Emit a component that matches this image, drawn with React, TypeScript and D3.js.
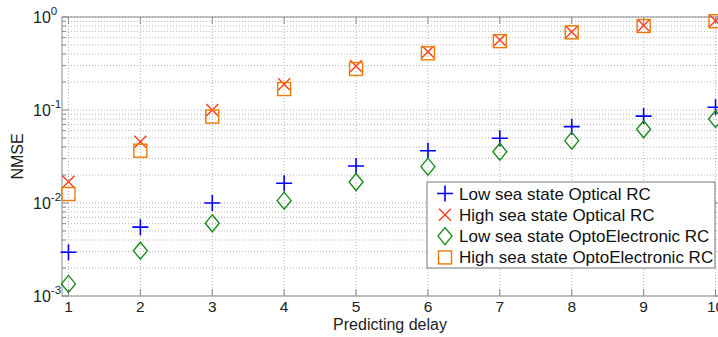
import * as d3 from 'd3';

const delays = [1, 2, 3, 4, 5, 6, 7, 8, 9, 10];
const lowOptical = [0.00295, 0.0055, 0.01, 0.0163, 0.025, 0.0365, 0.0496, 0.0662, 0.086, 0.107];
const highOptical = [0.0169, 0.0456, 0.1, 0.189, 0.297, 0.424, 0.566, 0.69, 0.81, 0.91];
const lowOpto = [0.00135, 0.00307, 0.00605, 0.0106, 0.0168, 0.0246, 0.0356, 0.0468, 0.062, 0.08];
const highOpto = [0.0125, 0.0365, 0.085, 0.168, 0.276, 0.407, 0.55, 0.684, 0.8, 0.9];
const yExponents = [-3, -2, -1, 0];
const legendLabels = [
  'Low sea state Optical RC',
  'High sea state Optical RC',
  'Low sea state OptoElectronic RC',
  'High sea state OptoElectronic RC',
];

const W = 718;
const H = 337;
const left = 62;
const right = 722;
const top = 17;
const bottom = 296;
const font = 'Liberation Sans, Arial, sans-serif';

const BLUE = '#0000ff';
const RED = '#ff3b1a';
const GREEN = '#1e8c1e';
const ORANGE = '#ec7a00';

type Kind = 'plus' | 'x' | 'diamond' | 'square';

function Marker({ kind, cx, cy }: { kind: Kind; cx: number; cy: number }) {
  if (kind === 'plus') {
    return (
      <path d={`M${cx - 8},${cy}H${cx + 8}M${cx},${cy - 8}V${cy + 8}`} stroke={BLUE} strokeWidth={1.6} fill="none" />
    );
  }
  if (kind === 'x') {
    const r = 6;
    return (
      <path
        d={`M${cx - r},${cy - r}L${cx + r},${cy + r}M${cx - r},${cy + r}L${cx + r},${cy - r}`}
        stroke={RED}
        strokeWidth={1.4}
        fill="none"
      />
    );
  }
  if (kind === 'diamond') {
    return (
      <path
        d={`M${cx},${cy - 8.5}L${cx + 7},${cy}L${cx},${cy + 8.5}L${cx - 7},${cy}Z`}
        stroke={GREEN}
        strokeWidth={1.4}
        fill="none"
      />
    );
  }
  return <rect x={cx - 6.5} y={cy - 6.5} width={13} height={13} stroke={ORANGE} strokeWidth={1.4} fill="none" />;
}

export default function App() {
  const x = d3.scaleLinear().domain([0.91, 10.09]).range([left, right]);
  const y = d3.scaleLog().domain([1e-3, 1]).range([bottom, top]);

  // minor decades 2..9 for the log grid
  const minors: number[] = [];
  for (let e = -3; e < 0; e++) {
    for (let m = 2; m <= 9; m++) minors.push(m * Math.pow(10, e));
  }
  const majors = yExponents.map((e) => Math.pow(10, e));

  const series: { kind: Kind; values: number[] }[] = [
    { kind: 'plus', values: lowOptical },
    { kind: 'x', values: highOptical },
    { kind: 'diamond', values: lowOpto },
    { kind: 'square', values: highOpto },
  ];

  const grid = '#b4b4b4';
  const axisColor = '#8a8a8a';

  return (
    <div style={{ position: 'absolute', left: 0, top: 0 }}>
      <svg width={W} height={H} style={{ display: 'block', background: '#fff' }}>
        {/* grid */}
        {[...minors, ...majors].map((v, i) => (
          <line key={'gy' + i} x1={left} x2={right} y1={y(v)} y2={y(v)} stroke={grid} strokeWidth={1} strokeDasharray="1,2" />
        ))}
        {delays.map((d) => (
          <line key={'gx' + d} x1={x(d)} x2={x(d)} y1={top} y2={bottom} stroke={grid} strokeWidth={1} strokeDasharray="1,2" />
        ))}

        {/* axes box */}
        <rect x={left} y={top} width={right - left} height={bottom - top} fill="none" stroke={axisColor} strokeWidth={1} />

        {/* ticks */}
        {minors.map((v, i) => (
          <g key={'my' + i}>
            <line x1={left} x2={left + 4} y1={y(v)} y2={y(v)} stroke={axisColor} />
            <line x1={right} x2={right - 4} y1={y(v)} y2={y(v)} stroke={axisColor} />
          </g>
        ))}
        {majors.map((v, i) => (
          <g key={'My' + i}>
            <line x1={left} x2={left + 7} y1={y(v)} y2={y(v)} stroke={axisColor} />
            <line x1={right} x2={right - 7} y1={y(v)} y2={y(v)} stroke={axisColor} />
          </g>
        ))}
        {delays.map((d) => (
          <g key={'tx' + d}>
            <line x1={x(d)} x2={x(d)} y1={bottom} y2={bottom - 7} stroke={axisColor} />
            <line x1={x(d)} x2={x(d)} y1={top} y2={top + 7} stroke={axisColor} />
          </g>
        ))}

        {/* tick labels */}
        {delays.map((d) => (
          <text key={'lx' + d} x={x(d)} y={311.5} textAnchor="middle" fontFamily={font} fontSize={15.5} fill="#222">
            {d}
          </text>
        ))}
        {yExponents.map((e) => (
          <text key={'ly' + e} x={33} y={y(Math.pow(10, e)) + 6} fontFamily={font} fontSize={16} fill="#222">
            10
            <tspan dy={-8} fontSize={11.5}>
              {e === 0 ? '0' : '-' + Math.abs(e)}
            </tspan>
          </text>
        ))}

        {/* axis titles */}
        <text x={390} y={330} textAnchor="middle" fontFamily={font} fontSize={16} fill="#222">
          Predicting delay
        </text>
        <text
          transform={`translate(23,${(top + bottom) / 2}) rotate(-90)`}
          textAnchor="middle"
          fontFamily={font}
          fontSize={16}
          fill="#222"
        >
          NMSE
        </text>

        {/* markers */}
        {series.map((s) =>
          s.values.map((v, i) => <Marker key={s.kind + i} kind={s.kind} cx={x(delays[i])} cy={y(v)} />),
        )}

        {/* legend */}
        <rect x={427} y={182} width={288} height={86} fill="#fff" stroke="#7a7a7a" strokeWidth={1} />
        {legendLabels.map((label, i) => {
          const cy = 193.5 + i * 21.3;
          return (
            <g key={label}>
              <Marker kind={series[i].kind} cx={445} cy={cy} />
              <text x={459} y={cy + 6} fontFamily={font} fontSize={17} fill="#111">
                {label}
              </text>
            </g>
          );
        })}
      </svg>
    </div>
  );
}
